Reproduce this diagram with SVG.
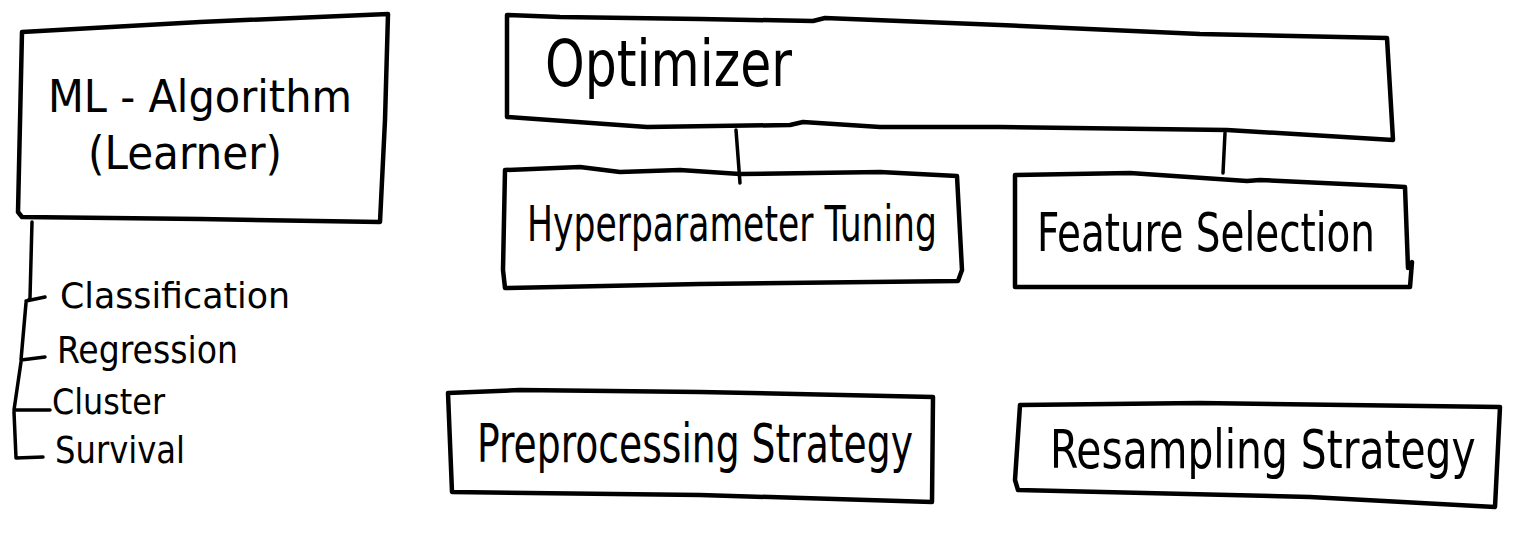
<svg xmlns="http://www.w3.org/2000/svg" width="1519" height="548" viewBox="0 0 1519 548">
  <style>
    .box { fill: none; stroke: #000; stroke-width: 4.5; stroke-linejoin: round; stroke-linecap: round; }
    .line { fill: none; stroke: #000; stroke-width: 3.5; stroke-linejoin: round; stroke-linecap: round; }
    .t { font-family: "Liberation Sans Narrow", "DejaVu Sans Condensed", "Liberation Sans", sans-serif; fill: #000; }
  </style>
  <rect x="0" y="0" width="1519" height="548" fill="#fff"/>

  <g id="ml-algorithm">
    <path class="box" d="M22,32 L200,22 L388,14 L385,120 L380,222 L200,219 L22,217 L18,212 Z"/>
    <text class="t" x="48" y="112" font-size="44" textLength="304" lengthAdjust="spacingAndGlyphs">ML - Algorithm</text>
    <text class="t" x="88" y="169" font-size="46" textLength="194" lengthAdjust="spacingAndGlyphs">(Learner)</text>
  </g>

  <g id="tasks">
    <text class="t" x="60" y="308" font-size="36" textLength="230" lengthAdjust="spacingAndGlyphs">Classification</text>
    <text class="t" x="57" y="363" font-size="38" textLength="181" lengthAdjust="spacingAndGlyphs">Regression</text>
    <text class="t" x="52" y="414" font-size="36" textLength="113" lengthAdjust="spacingAndGlyphs">Cluster</text>
    <text class="t" x="55" y="463" font-size="38" textLength="130" lengthAdjust="spacingAndGlyphs">Survival</text>
  </g>

  <g id="optimizer">
    <path class="box" d="M507,15 L560,17 L700,19 L813,21 L825,18 L1000,25 L1200,34 L1387,38 L1393,140 L1227,130 L1000,127 L880,127 L803,122 L790,125 L647,127 L507,117 Z"/>
    <text class="t" x="545" y="86" font-size="64" textLength="247" lengthAdjust="spacingAndGlyphs">Optimizer</text>
  </g>

  <g id="hyperparameter-tuning">
    <path class="box" d="M505,170 L580,167 L620,172 L680,170 L740,174 L880,172 L957,176 L962,270 L958,281 L700,284 L505,288 L503,270 Z"/>
    <text class="t" x="527" y="241" font-size="50" textLength="410" lengthAdjust="spacingAndGlyphs">Hyperparameter Tuning</text>
  </g>

  <g id="feature-selection">
    <path class="box" d="M1015,175 L1130,173 L1247,181 L1260,180 L1387,186 L1405,187 L1408,268 L1412,262 L1410,287 L1015,287 Z"/>
    <text class="t" x="1037" y="251" font-size="54" textLength="338" lengthAdjust="spacingAndGlyphs">Feature Selection</text>
  </g>

  <g id="preprocessing-strategy">
    <path class="box" d="M448,393 L520,390 L700,392 L933,397 L932,502 L700,495 L452,492 Z"/>
    <text class="t" x="477" y="462" font-size="54" textLength="436" lengthAdjust="spacingAndGlyphs">Preprocessing Strategy</text>
  </g>

  <g id="resampling-strategy">
    <path class="box" d="M1020,405 L1200,403 L1500,407 L1495,507 L1310,497 L1018,490 L1015,480 Z"/>
    <text class="t" font-size="54" transform="translate(1050,468) scale(0.84,1)">Resampling Strategy</text>
  </g>

  <g id="connectors">
    <path class="line" d="M736,130 L740,183"/>
    <path class="line" d="M1225,133 L1223,173"/>
    <path class="line" d="M32,222 L30,298 Q29,301 26,301 L45,297"/>
    <path class="line" d="M26,303 L21,360 L45,357"/>
    <path class="line" d="M21,362 L14,410 L50,410"/>
    <path class="line" d="M14,412 L16,458 L43,457"/>
  </g>
</svg>
